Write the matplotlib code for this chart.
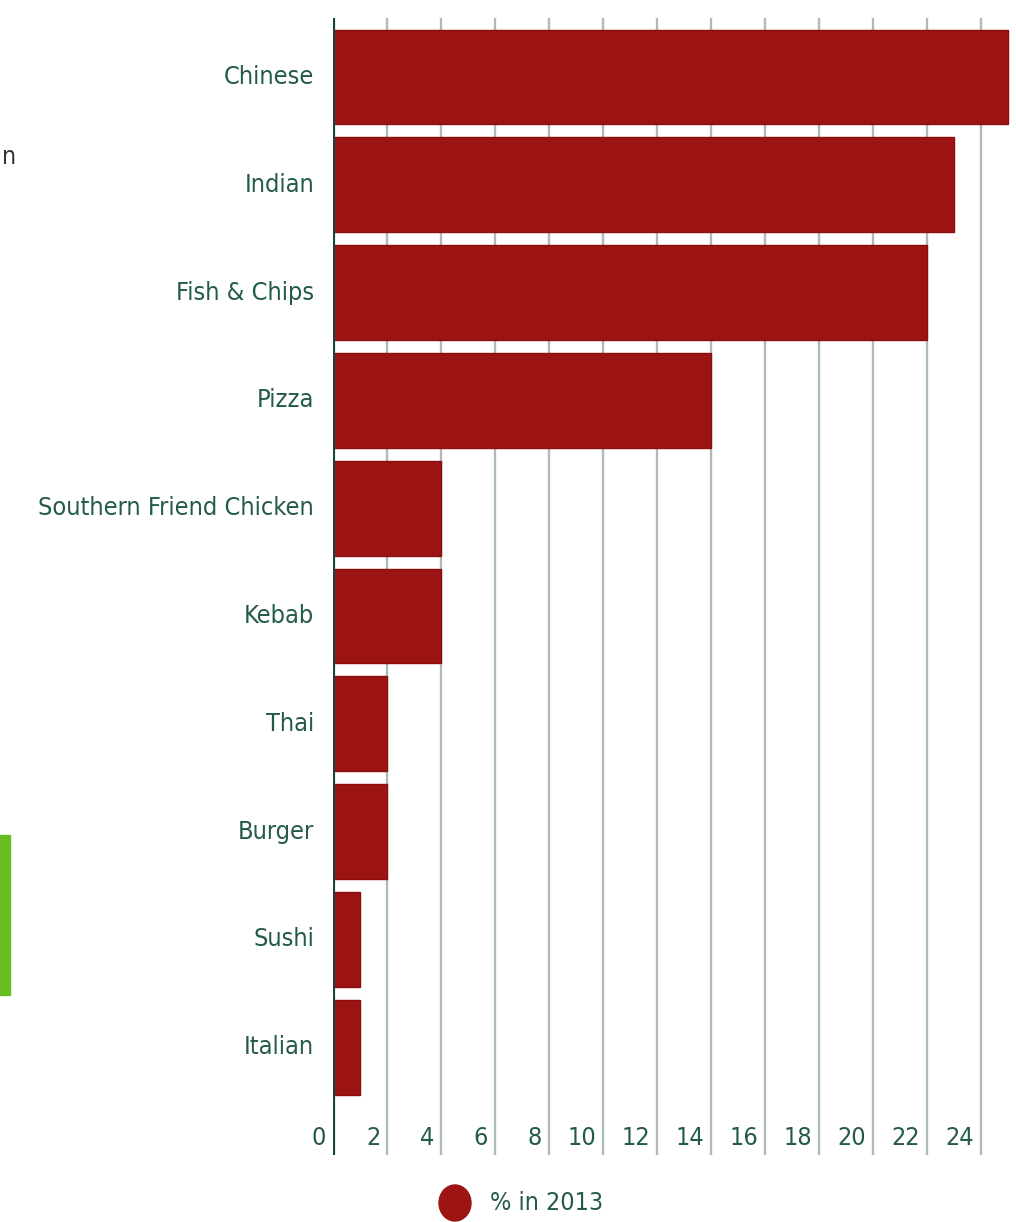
import matplotlib
matplotlib.use("Agg")
import matplotlib.pyplot as plt
from matplotlib.patches import Rectangle, Ellipse
from matplotlib.transforms import blended_transform_factory
from matplotlib import font_manager

# takeaway preference, % in 2013
categories = ["Chinese", "Indian", "Fish & Chips", "Pizza", "Southern Friend Chicken",
              "Kebab", "Thai", "Burger", "Sushi", "Italian"]
values = [25, 23, 22, 14, 4, 4, 2, 2, 1, 1]
x_ticks = [0, 2, 4, 6, 8, 10, 12, 14, 16, 18, 20, 22, 24]
legend_label = "% in 2013"

bar_color = "#9d1414"
text_color = "#245a48"
grid_color = "#adbdb5"

# narrow font if one is around, otherwise Lato a bit smaller
cond = font_manager.findfont(font_manager.FontProperties(family="DejaVu Sans", stretch="condensed"))
if "Condensed" in cond:
    font = dict(family=["DejaVu Sans"], stretch="condensed")
    cat_size, tick_size = 18.2, 18
else:
    font = dict(family=["Lato", "DejaVu Sans"])
    cat_size, tick_size = 17, 17

fig = plt.figure(figsize=(10.16, 12.22), dpi=100)
ax = fig.add_axes([333 / 1016, 1 - 1155 / 1222, 1 - 333 / 1016, (1155 - 18) / 1222])

y = list(range(len(categories)))
ax.barh(y, values, height=0.88, color=bar_color, edgecolor="#8a0e0e", linewidth=1, zorder=3)

ax.set_xlim(0, 25.3)
ax.set_ylim(len(categories) - 1 + 1.0, -0.547)

for t in x_ticks[1:]:
    ax.axvline(t, color=grid_color, linewidth=1.7, zorder=1)
ax.axvline(0, color="#16463a", linewidth=3, zorder=4)

for s in ax.spines.values():
    s.set_visible(False)
ax.set_xticks([])
ax.set_yticks([])

# tick labels sit just left of each grid line
trans = blended_transform_factory(ax.transData, ax.transAxes)
for t in x_ticks:
    ax.text(t - 0.25, 17 / 1137, str(t), transform=trans, ha="right", va="center",
            fontsize=tick_size, color=text_color, **font)

for yi, name in zip(y, categories):
    ax.text(-0.7, yi, name, ha="right", va="center", fontsize=cat_size,
            color=text_color, clip_on=False, **font)

# legend
fig.patches.append(Ellipse((455 / 1016, 1 - 1203 / 1222), 32 / 1016, 36 / 1222,
                           transform=fig.transFigure, color=bar_color, figure=fig))
fig.text(490 / 1016, 1 - 1203 / 1222, legend_label, ha="left", va="center", fontsize=tick_size,
         color=text_color, **font)

# bits of the neighbouring panel cut off at the left edge
fig.text(2 / 1016, 1 - 157 / 1222, "n", ha="left", va="center", fontsize=tick_size,
         color="#333333", **font)
fig.patches.append(Rectangle((0, 1 - 995 / 1222), 10 / 1016, 160 / 1222, transform=fig.transFigure,
                             color="#66bf1e", figure=fig))

fig.savefig("out.png", dpi=100)
